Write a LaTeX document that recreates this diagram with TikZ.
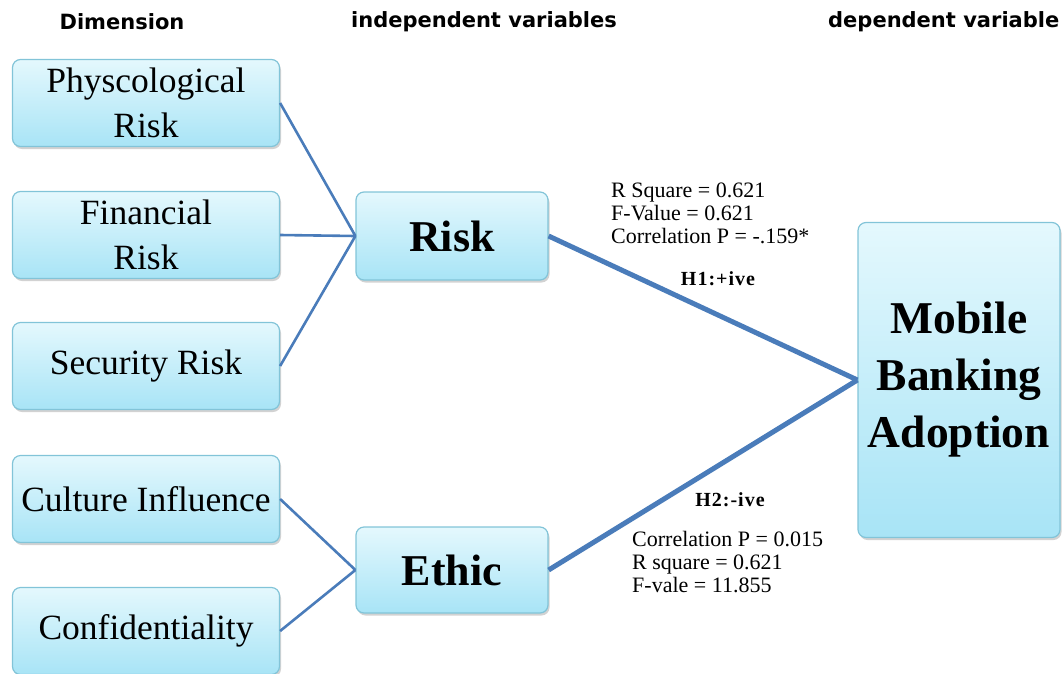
\documentclass[tikz,border=0pt]{standalone}
\usepackage{fontspec}
\setmainfont{Liberation Serif}
\newfontfamily\headfont{DejaVu Sans}
\usepackage{tikz}
\usetikzlibrary{shadows, positioning}

\definecolor{boxtop}{RGB}{228,248,253}
\definecolor{boxbot}{RGB}{168,228,246}
\definecolor{boxline}{RGB}{130,196,216}
\definecolor{linkblue}{RGB}{74,124,186}

\begin{document}
\begin{tikzpicture}[x=1pt, y=-1pt,
    box/.style={draw=boxline, line width=1.2pt, rounded corners=8pt,
        top color=boxtop, bottom color=boxbot,
        drop shadow={shadow xshift=1.5pt, shadow yshift=-2.5pt, fill=black!35},
        align=center, inner sep=0pt},
    dimbox/.style={box, minimum width=267pt, minimum height=87pt,
        font=\fontsize{35.5}{45}\selectfont},
    varbox/.style={box, minimum width=192pt, minimum height=88pt,
        font=\fontsize{44}{57}\selectfont\bfseries},
    head/.style={font=\headfont\fontsize{21}{25}\selectfont\bfseries, inner sep=0pt},
    stats/.style={align=left, inner sep=0pt, font=\fontsize{22}{23}\selectfont},
    hyp/.style={inner sep=0pt, font=\fontsize{20}{20}\selectfont\bfseries\addfontfeatures{LetterSpace=5}},
    thin link/.style={draw=linkblue, line width=2.6pt},
    thick link/.style={draw=linkblue, line width=5pt}]

            \useasboundingbox (0,0) rectangle (1063,673);

            % headings
            \node[head] (hdim) at (122,22) {Dimension};
            \node[head] (hind) at (484,22) {independent variables};
            \node[head, anchor=west] (hdep) at (828,22) {dependent variable};

            % dimensions
            \node[dimbox] (phys) at (146,103) {Physcological\\Risk};
            \node[dimbox] (fin) at (146,235) {Financial\\Risk};
            \node[dimbox] (sec) at (146,366) {Security Risk};
            \node[dimbox] (cult) at (146,499) {Culture Influence};
            \node[dimbox] (conf) at (146,631) {Confidentiality};

            % independent and dependent variables
            \node[varbox] (risk) at (452,236) {Risk};
            \node[varbox, minimum height=86pt] (ethic) at (452,570) {Ethic};
            \node[box, minimum width=202pt, minimum height=315pt,
                font=\fontsize{45.5}{57}\selectfont\bfseries] (mba) at (959,380) {Mobile\\Banking\\Adoption};

            % Connections: dimensions to variables
            \draw[thin link] (phys.east) -- (risk.west);
            \draw[thin link] (fin.east) -- (risk.west);
            \draw[thin link] (sec.east) -- (risk.west);
            \draw[thin link] (cult.east) -- (ethic.west);
            \draw[thin link] (conf.east) -- (ethic.west);

            % Connections: variables to adoption
            \draw[thick link] (risk.east) -- (mba.west);
            \draw[thick link] (ethic.east) -- (mba.west);

            % results
            \node[stats, anchor=west] (res1) at (611,213) {R Square = 0.621\\F-Value = 0.621\\Correlation P = -.159*};
            \node[hyp] (h1) at (718,279) {H1:+ive};
            \node[hyp] (h2) at (730,500) {H2:-ive};
            \node[stats, anchor=west] (res2) at (632,562) {Correlation P = 0.015\\R square = 0.621\\F-vale = 11.855};

        \end{tikzpicture}
\end{document}
